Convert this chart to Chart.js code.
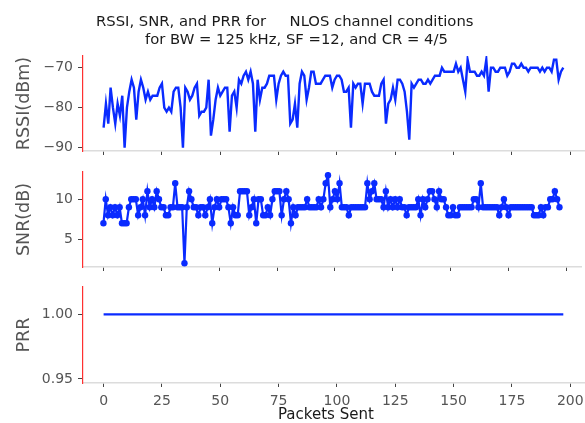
<!DOCTYPE html>
<html>
<head>
<meta charset="utf-8">
<script src="https://cdn.jsdelivr.net/npm/chart.js@4"></script>
<style>
  body { margin: 0; background: #fff; }
  #wrap { position: relative; width: 585px; height: 423px; font-family: 'DejaVu Sans', sans-serif; }
  canvas { position: absolute; left: 0; top: 0; }
  .txt { position: absolute; white-space: pre; color: #1a1a1a; }
</style>
</head>
<body>
<div id="wrap">
  <canvas id="rssiChart" width="585" height="423"></canvas>
  <canvas id="snrChart" width="585" height="423"></canvas>
  <canvas id="prrChart" width="585" height="423"></canvas>
  <div class="txt" style="left:96px; top:12px; font-size:14.8px; line-height:18px;">RSSI, SNR, and PRR for     NLOS channel conditions</div>
  <div class="txt" style="left:145px; top:30px; font-size:14.8px; line-height:18px;">for BW = 125 kHz, SF =12, and CR = 4/5</div>
  <div class="txt" style="left:278px; top:405px; font-size:15px; line-height:18px;">Packets Sent</div>
</div>
<script>
// RSSI (dBm) per packet
const rssi = [
  -85, -79, -84, -75, -80, -84, -79, -82, -77, -90,
  -80, -76, -73, -75, -83, -76, -73, -75, -78, -76,
  -78, -77, -77, -77, -75, -74, -80, -81, -80, -81,
  -76, -75, -75, -80, -90, -75, -76, -78, -77, -75,
  -74, -82, -81, -81, -80, -73, -87, -83, -78, -75,
  -77, -76, -75, -75, -86, -77, -76, -80, -73, -74,
  -72, -71, -73, -71, -74, -86, -73, -78, -75, -75,
  -74, -72, -72, -72, -78, -74, -72, -71, -72, -72,
  -84, -83, -79, -85, -74, -71, -72, -78, -75, -71,
  -71, -74, -74, -74, -73, -72, -72, -72, -75, -73,
  -72, -72, -73, -76, -76, -75, -85, -74, -75, -74,
  -74, -79, -74, -74, -74, -76, -77, -77, -77, -74,
  -73, -84, -79, -78, -75, -78, -73, -73, -74, -76,
  -81, -88, -74, -75, -74, -73, -73, -74, -74, -73,
  -74, -73, -72, -72, -72, -70, -71, -71, -71, -71,
  -71, -69, -71, -70, -73, -76, -68, -71, -71, -71,
  -72, -72, -71, -72, -68, -76, -70, -70, -71, -71,
  -70, -70, -70, -72, -71, -69, -69, -70, -70, -69,
  -70, -70, -71, -70, -70, -70, -70, -71, -70, -71,
  -70, -70, -71, -68, -68, -73, -71, -70
];

// SNR (dB) per packet
const snr = [
  7, 10, 8, 9, 8, 9, 8, 9, 7, 7,
  7, 9, 10, 10, 10, 8, 9, 10, 8, 11,
  9, 10, 9, 11, 10, 9, 9, 8, 8, 9,
  9, 12, 9, 9, 9, 2, 9, 11, 10, 9,
  9, 8, 9, 9, 8, 9, 10, 7, 9, 10,
  9, 10, 10, 10, 9, 7, 9, 8, 8, 11,
  11, 11, 11, 8, 9, 10, 7, 10, 10, 8,
  8, 9, 8, 10, 11, 11, 11, 8, 10, 11,
  10, 7, 9, 8, 9, 9, 9, 9, 10, 9,
  9, 9, 9, 10, 9, 10, 12, 13, 9, 10,
  11, 10, 12, 9, 9, 9, 8, 9, 9, 9,
  9, 9, 9, 9, 12, 10, 11, 12, 10, 10,
  10, 9, 11, 9, 10, 9, 10, 9, 10, 9,
  9, 8, 9, 9, 9, 9, 10, 8, 10, 9,
  10, 11, 11, 10, 9, 11, 10, 10, 9, 8,
  8, 9, 8, 8, 9, 9, 9, 9, 9, 9,
  10, 10, 9, 12, 9, 9, 9, 9, 9, 9,
  9, 8, 9, 10, 9, 8, 9, 9, 9, 9,
  9, 9, 9, 9, 9, 9, 8, 8, 8, 9,
  8, 9, 9, 10, 10, 11, 10, 9
];

// PRR per packet
const prr = Array(rssi.length).fill(1.0);

const packets = rssi.map((_, i) => i);
const xTicks = [0, 25, 50, 75, 100, 125, 150, 175, 200];
const rssiTicks = [-90, -80, -70];
const snrTicks = [5, 10];
const prrTicks = [0.95, 1.00];

const blue = '#0a2bff';
const font = 'DejaVu Sans';
const tickGray = '#555555';

function pts(arr) {
  return arr.map((v, i) => ({ x: packets[i], y: v }));
}

function makeChart(id, values, opts) {
  return new Chart(document.getElementById(id).getContext('2d'), {
    type: 'line',
    data: {
      datasets: [{
        data: pts(values),
        borderColor: blue,
        backgroundColor: blue,
        borderWidth: opts.lineWidth,
        pointRadius: opts.pointRadius,
        pointBackgroundColor: blue,
        pointBorderWidth: 0,
        tension: 0,
        fill: false
      }]
    },
    options: {
      responsive: false,
      animation: false,
      events: [],
      layout: { padding: { top: opts.top, left: 0, right: 0, bottom: 0 } },
      plugins: { legend: { display: false }, tooltip: { enabled: false } },
      scales: {
        x: {
          type: 'linear',
          min: -8.83,
          max: 206.3,
          afterBuildTicks: s => { s.ticks = xTicks.map(v => ({ value: v })); },
          afterFit: s => { s.height = 423 - opts.bottom; s.paddingLeft = 0; s.paddingRight = 0; },
          grid: { drawOnChartArea: false, drawTicks: true, tickLength: 4, tickColor: '#444', tickWidth: 1 },
          border: { color: '#dcdcdc', width: 1.5 },
          ticks: {
            display: opts.showX,
            color: tickGray,
            padding: 6,
            font: { family: font, size: 14 },
            callback: v => String(v)
          }
        },
        y: {
          min: opts.yMin,
          max: opts.yMax,
          afterBuildTicks: s => { s.ticks = opts.yTicks.map(v => ({ value: v })); },
          afterFit: s => { s.width = 83; },
          grid: { drawOnChartArea: false, drawTicks: true, tickLength: 5, tickColor: '#444', tickWidth: 1 },
          border: { color: '#ff3030', width: 1.2 },
          ticks: {
            color: tickGray,
            padding: 5,
            font: { family: font, size: 14 },
            callback: opts.fmt
          },
          title: {
            display: true,
            text: opts.label,
            color: tickGray,
            font: { family: font, size: 17.5 },
            padding: { top: 14, bottom: 0 }
          }
        }
      }
    }
  });
}

const minus = v => (v < 0 ? '\u2212' + Math.abs(v) : String(v));

makeChart('rssiChart', rssi, {
  top: 56, bottom: 151, yMin: -90.83, yMax: -67.08, yTicks: rssiTicks,
  label: 'RSSI(dBm)', fmt: minus, lineWidth: 2.4, pointRadius: 0, showX: false
});
makeChart('snrChart', snr, {
  top: 172, bottom: 267, yMin: 1.54, yMax: 13.41, yTicks: snrTicks,
  label: 'SNR(dB)', fmt: v => String(v), lineWidth: 2.2, pointRadius: 3.2, showX: false
});
makeChart('prrChart', prr, {
  top: 287, bottom: 383, yMin: 0.9469, yMax: 1.0211, yTicks: prrTicks,
  label: 'PRR', fmt: v => v.toFixed(2), lineWidth: 2.2, pointRadius: 0, showX: true
});
</script>
</body>
</html>
